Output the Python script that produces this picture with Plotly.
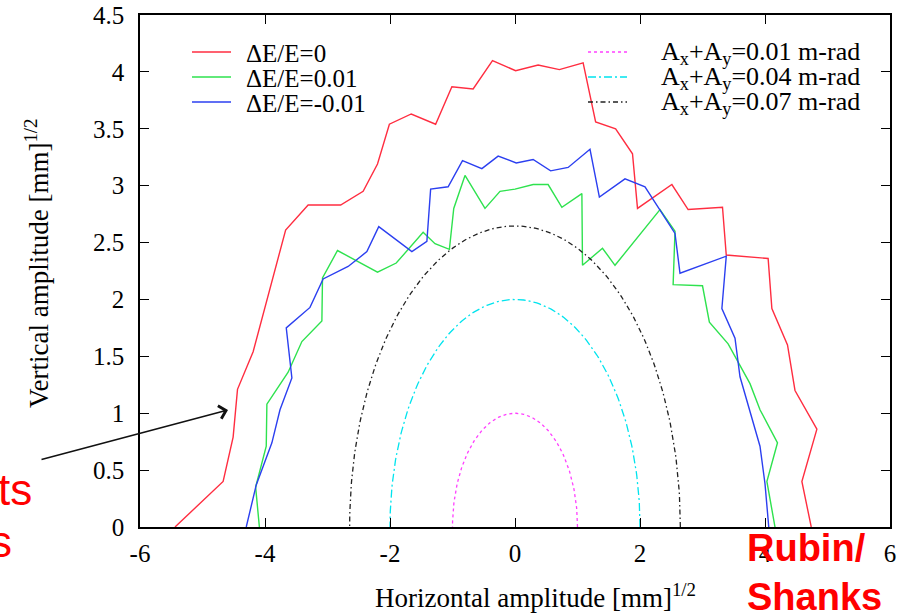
import numpy as np
import plotly.graph_objects as go

# --- dynamic aperture scans (sqrt-amplitude units, [mm]^1/2) ---
red_x = [-5.44, -4.67, -4.51, -4.44, -4.19, -3.67, -3.31, -2.79, -2.43, -2.20, -2.01, -1.66,
         -1.27, -1.01, -0.67, -0.36, 0.01, 0.37, 0.71, 1.09, 1.29, 1.61, 1.88, 1.96, 2.51,
         2.77, 3.32, 3.38, 4.05, 4.11, 4.36, 4.48, 4.83, 4.59, 4.74]
red_y = [0.00, 0.40, 0.79, 1.21, 1.54, 2.61, 2.83, 2.83, 2.95, 3.19, 3.54, 3.63,
         3.54, 3.87, 3.85, 4.10, 4.01, 4.06, 4.02, 4.08, 3.56, 3.50, 3.28, 2.80, 3.01,
         2.79, 2.81, 2.39, 2.36, 1.92, 1.60, 1.20, 0.86, 0.40, 0.00]

green_x = [-4.09, -4.15, -3.98, -3.97, -3.63, -3.41, -3.09, -3.08, -2.84, -2.20, -1.90, -1.47,
           -1.28, -1.05, -0.98, -0.80, -0.48, -0.24, 0.00, 0.29, 0.53, 0.75, 1.07, 1.08,
           1.40, 1.60, 2.32, 2.56, 2.53, 3.00, 3.11, 3.41, 3.76, 3.92, 4.20, 4.03, 4.16]
green_y = [0.00, 0.35, 0.71, 1.08, 1.36, 1.63, 1.81, 2.19, 2.43, 2.24, 2.32, 2.59,
           2.49, 2.44, 2.80, 3.09, 2.80, 2.95, 2.97, 3.01, 3.01, 2.81, 2.93, 2.30,
           2.45, 2.30, 2.79, 2.60, 2.13, 2.12, 1.80, 1.61, 1.26, 1.03, 0.74, 0.40, 0.00]

blue_x = [-4.30, -4.14, -3.89, -3.76, -3.57, -3.66, -3.28, -3.07, -2.67, -2.37, -2.18, -1.65,
          -1.41, -1.35, -1.07, -0.84, -0.53, -0.27, 0.02, 0.29, 0.57, 0.85, 1.20, 1.35,
          1.76, 2.08, 2.56, 2.64, 3.38, 3.31, 3.52, 3.60, 3.92, 4.00, 4.06]
blue_y = [0.00, 0.37, 0.74, 1.03, 1.31, 1.75, 1.93, 2.18, 2.29, 2.42, 2.64, 2.42,
          2.51, 2.97, 2.99, 3.22, 3.15, 3.26, 3.20, 3.23, 3.13, 3.16, 3.32, 2.90,
          3.06, 2.99, 2.58, 2.23, 2.38, 1.92, 1.66, 1.32, 0.71, 0.38, 0.00]

# emittance contours Ax+Ay = const (m-rad); radius^2 in mm = 100 * emittance
emittances = [0.01, 0.04, 0.07]

scan_labels = ["\u0394E/E=0", "\u0394E/E=0.01", "\u0394E/E=-0.01"]
emit_labels = ["A<sub>x</sub>+A<sub>y</sub>=%.2f m-rad" % e for e in emittances]

x_ticks = [-6, -4, -2, 0, 2, 4, 6]
y_ticks = [0, 0.5, 1, 1.5, 2, 2.5, 3, 3.5, 4, 4.5]

W, H = 899, 613
ML, MR, MT, MB = 140, 9, 15, 86
PW, PH = W - ML - MR, H - MT - MB


def px(xp):
    return (xp - ML) / PW


def py(yp):
    return (H - MB - yp) / PH


SERIF = "Liberation Serif"
scan_styles = [dict(color="#ff2d40", width=1.4),
               dict(color="#2ee24e", width=1.4),
               dict(color="#2b3ff0", width=1.4)]
emit_styles = [dict(color="#ff40ff", width=1.3, dash="dot"),
               dict(color="#00e4ee", width=1.3, dash="8px,3px,2px,3px"),
               dict(color="#222222", width=1.3, dash="5px,3px,1.5px,3px")]

fig = go.Figure()

for xs, ys, st, name in zip([red_x, green_x, blue_x], [red_y, green_y, blue_y],
                            scan_styles, scan_labels):
    fig.add_trace(go.Scatter(x=xs, y=ys, mode="lines", line=st, name=name,
                             showlegend=False))

theta = np.linspace(0, np.pi, 181)
for e, st, name in zip(emittances, emit_styles, emit_labels):
    r = np.sqrt(100 * e)
    fig.add_trace(go.Scatter(x=r * np.cos(theta), y=r * np.sin(theta), mode="lines",
                             line=st, name=name, showlegend=False))

shapes = []
annotations = []

# key entries drawn inside the frame
rows = [52, 77, 102]
for yrow, st, name in zip(rows, scan_styles, scan_labels):
    shapes.append(dict(type="line", xref="paper", yref="paper", x0=px(192), x1=px(231),
                       y0=py(yrow), y1=py(yrow), line=st))
    annotations.append(dict(xref="paper", yref="paper", x=px(244), y=py(yrow + 1),
                            xanchor="left", yanchor="middle", text=name, showarrow=False,
                            font=dict(family=SERIF, size=25, color="black")))
for yrow, st, name in zip(rows, emit_styles, emit_labels):
    shapes.append(dict(type="line", xref="paper", yref="paper", x0=px(588), x1=px(627),
                       y0=py(yrow), y1=py(yrow), line=st))
    annotations.append(dict(xref="paper", yref="paper", x=px(659), y=py(yrow + 1),
                            xanchor="left", yanchor="middle", text=name, showarrow=False,
                            font=dict(family=SERIF, size=26, color="black")))

# axis titles
annotations.append(dict(xref="paper", yref="paper", x=px(535), y=py(596),
                        xanchor="center", yanchor="middle",
                        text="Horizontal amplitude [mm]<sup>1/2</sup>", showarrow=False,
                        font=dict(family=SERIF, size=27, color="black")))
annotations.append(dict(xref="paper", yref="paper", x=px(37), y=py(263),
                        xanchor="center", yanchor="middle", textangle=-90,
                        text="Vertical amplitude [mm]<sup>1/2</sup>", showarrow=False,
                        font=dict(family=SERIF, size=27, color="black")))

# slide overlay text and pointer
SANS = "Liberation Sans"
annotations.append(dict(xref="paper", yref="paper", x=px(34), y=py(489),
                        xanchor="right", yanchor="middle", text="ts", showarrow=False,
                        font=dict(family=SANS, size=44, color="#ff0000")))
annotations.append(dict(xref="paper", yref="paper", x=px(14), y=py(541),
                        xanchor="right", yanchor="middle", text="s", showarrow=False,
                        font=dict(family=SANS, size=44, color="#ff0000")))
annotations.append(dict(xref="paper", yref="paper", x=px(745), y=py(572),
                        xanchor="left", yanchor="middle", align="left",
                        text="<b>Rubin/<br>Shanks</b>", showarrow=False,
                        font=dict(family=SANS, size=38, color="#ff0000")))
annotations.append(dict(xref="paper", yref="paper", x=px(228), y=py(410),
                        ax=-188, ay=50, text="", showarrow=True,
                        arrowhead=4, arrowsize=1.6, arrowwidth=1.6, arrowcolor="#111111"))

axis_common = dict(showline=True, linecolor="black", linewidth=1.5, mirror="ticks",
                   ticks="inside", ticklen=9, tickwidth=1.3, tickcolor="black",
                   showgrid=False, zeroline=False, automargin=False,
                   tickfont=dict(family=SERIF, size=25, color="black"))

fig.update_layout(
    width=W, height=H,
    margin=dict(l=ML, r=MR, t=MT, b=MB),
    paper_bgcolor="white", plot_bgcolor="white",
    xaxis=dict(range=[-6, 6], tickvals=x_ticks, ticktext=[str(v) for v in x_ticks],
               ticklabelstandoff=3, **axis_common),
    yaxis=dict(range=[0, 4.5], tickvals=y_ticks, ticktext=[("%g" % v) for v in y_ticks],
               ticklabelstandoff=9, **axis_common),
    shapes=shapes,
    annotations=annotations,
    showlegend=False,
)

fig.write_html("out.html")
